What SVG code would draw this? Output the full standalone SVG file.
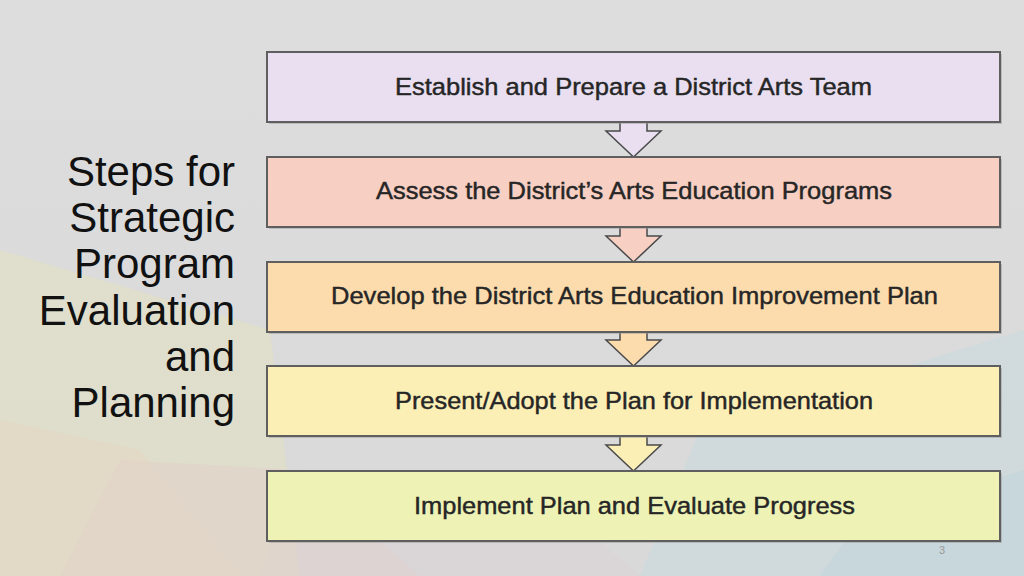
<svg xmlns="http://www.w3.org/2000/svg" width="1024" height="576" viewBox="0 0 1024 576">
<style>
.box{stroke:#5f5f5f;stroke-width:2}
.arr{stroke:#4a4a4a;stroke-width:1.5;stroke-linejoin:miter}
.lbl{font-family:"Liberation Sans",Arial,sans-serif;font-size:24.5px;fill:#262626;stroke:#262626;stroke-width:0.45;text-anchor:middle}
.ttl{font-family:"Liberation Sans",Arial,sans-serif;font-size:42px;fill:#111;text-anchor:end}
.pg{font-family:"Liberation Sans",Arial,sans-serif;font-size:11px;fill:#9a9a9a;text-anchor:middle}
</style>
<defs>
<linearGradient id="bg" x1="0" y1="0" x2="0" y2="1">
<stop offset="0" stop-color="#dddddd"/>
<stop offset="1" stop-color="#d9d9d9"/>
</linearGradient>
</defs>
<g id="background">
<rect x="0" y="0" width="1024" height="576" fill="url(#bg)"/>
<polygon points="0,250 270,330 300,576 0,576" fill="#e3e0c2" opacity="0.6"/>
<polygon points="0,420 140,450 240,576 0,576" fill="#e6d7c0" opacity="0.4"/>
<polygon points="120,460 300,470 420,576 60,576" fill="#e2cfc9" opacity="0.4"/>
<polygon points="280,520 520,470 640,576 260,576" fill="#ddd0d4" opacity="0.35"/>
<polygon points="700,430 1024,330 1024,576 640,576" fill="#c9dbe0" opacity="0.6"/>
<polygon points="860,520 1024,470 1024,576 820,576" fill="#bfd3dc" opacity="0.5"/>
</g>
<g id="connectors">
<polygon class="arr" fill="#e9dff0" points="620,118 647,118 647,131 661,131 633.5,157 606,131 620,131"/>
<polygon class="arr" fill="#f7cfc3" points="620,223 647,223 647,236 661,236 633.5,262 606,236 620,236"/>
<polygon class="arr" fill="#fcdcad" points="620,328 647,328 647,340 661,340 633.5,366 606,340 620,340"/>
<polygon class="arr" fill="#fcefb6" points="620,432 647,432 647,445 661,445 633.5,471 606,445 620,445"/>
</g>
<g id="node1">
<rect x="269" y="54" width="733" height="70" fill="#9a9a9a" opacity="0.5"/>
<rect class="box" x="267" y="52" width="733" height="70" fill="#e9dff0"/>
<text class="lbl" x="633.5" y="95" textLength="477" lengthAdjust="spacingAndGlyphs">Establish and Prepare a District Arts Team</text>
</g>
<g id="node2">
<rect x="269" y="159" width="733" height="70" fill="#9a9a9a" opacity="0.5"/>
<rect class="box" x="267" y="157" width="733" height="70" fill="#f7cfc3"/>
<text class="lbl" x="634" y="199" textLength="516" lengthAdjust="spacingAndGlyphs">Assess the District’s Arts Education Programs</text>
</g>
<g id="node3">
<rect x="269" y="264" width="733" height="70" fill="#9a9a9a" opacity="0.5"/>
<rect class="box" x="267" y="262" width="733" height="70" fill="#fcdcad"/>
<text class="lbl" x="634.5" y="304" textLength="607" lengthAdjust="spacingAndGlyphs">Develop the District Arts Education Improvement Plan</text>
</g>
<g id="node4">
<rect x="269" y="368" width="733" height="70" fill="#9a9a9a" opacity="0.5"/>
<rect class="box" x="267" y="366" width="733" height="70" fill="#fcefb6"/>
<text class="lbl" x="634" y="409" textLength="478" lengthAdjust="spacingAndGlyphs">Present/Adopt the Plan for Implementation</text>
</g>
<g id="node5">
<rect x="269" y="473" width="733" height="70" fill="#9a9a9a" opacity="0.5"/>
<rect class="box" x="267" y="471" width="733" height="70" fill="#eef3b5"/>
<text class="lbl" x="634.5" y="514" textLength="441" lengthAdjust="spacingAndGlyphs">Implement Plan and Evaluate Progress</text>
</g>
<g id="title">
<text class="ttl" x="235" y="186">Steps for</text>
<text class="ttl" x="235" y="232">Strategic</text>
<text class="ttl" x="235" y="278">Program</text>
<text class="ttl" x="235" y="325">Evaluation</text>
<text class="ttl" x="235" y="371">and</text>
<text class="ttl" x="235" y="417">Planning</text>
</g>
<text class="pg" x="942" y="554">3</text>
</svg>
